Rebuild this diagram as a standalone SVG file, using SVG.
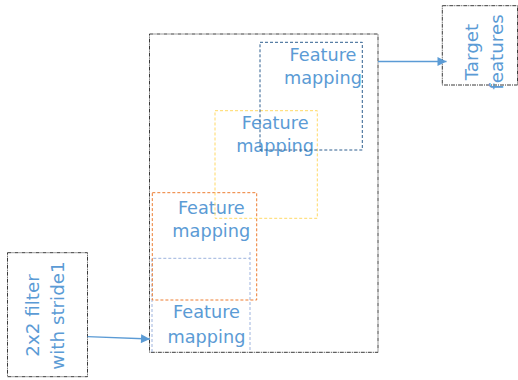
<svg xmlns="http://www.w3.org/2000/svg" width="518" height="380" viewBox="0 0 518 380">
<defs>
<style>
.frame{fill:none;stroke:#3a3a3a;stroke-width:1;stroke-dasharray:4 1 1 1}
.map{fill:none;stroke-width:1;stroke-dasharray:3 2}
.lbl{font-family:"DejaVu Sans",Verdana,sans-serif;fill:#5b9bd5;text-anchor:middle}
.fm{font-size:17.7px}
.side{font-size:18.3px}
.conn{fill:none;stroke:#5b9bd5;stroke-width:1.3}
</style>
<marker id="ah" viewBox="0 0 10 10" refX="10" refY="5" markerWidth="10" markerHeight="9" markerUnits="userSpaceOnUse" orient="auto">
<path d="M0,0 L10,5 L0,10 Z" fill="#5b9bd5"/>
</marker>
</defs>
<rect width="518" height="380" fill="#ffffff"/>
<g id="container">
<rect class="frame" x="149.5" y="34" width="228.5" height="318.3"/>
</g>
<g id="filter">
<rect class="frame" x="7.5" y="252.7" width="80" height="124"/>
<text class="lbl side" transform="rotate(-90)"><tspan x="-315.5" y="38.5">2x2 filter</tspan><tspan x="-315.5" y="63.8">with stride1</tspan></text>
</g>
<g id="target">
<rect class="frame" x="442.3" y="5.7" width="75.2" height="79.3"/>
<text class="lbl side" transform="rotate(-90)"><tspan x="-52" y="478.3">Target</tspan><tspan x="-52" y="503">features</tspan></text>
</g>
<g id="map1">
<path class="map" stroke="#9db3de" d="M152,352 V258.3 H250 M250,252 V352"/>
<text class="lbl fm"><tspan x="206.5" y="318.3">Feature</tspan><tspan x="206.5" y="342.7">mapping</tspan></text>
</g>
<g id="map2">
<rect class="map" stroke="#ed7d31" x="152.3" y="192.7" width="104.4" height="107.3"/>
<text class="lbl fm"><tspan x="211.3" y="214">Feature</tspan><tspan x="211.3" y="236.7">mapping</tspan></text>
</g>
<g id="map3">
<rect class="map" stroke="#ffd966" x="215" y="110.7" width="102.3" height="107.6"/>
<text class="lbl fm"><tspan x="275.1" y="129">Feature</tspan><tspan x="275.1" y="151.7">mapping</tspan></text>
</g>
<g id="map4">
<rect class="map" stroke="#2f5f8f" x="260" y="42.3" width="102.3" height="107.7"/>
<text class="lbl fm"><tspan x="323" y="61">Feature</tspan><tspan x="323" y="84.2">mapping</tspan></text>
</g>
<g id="connectors">
<path class="conn" marker-end="url(#ah)" d="M87.5,336.7 L150,339"/>
<path class="conn" marker-end="url(#ah)" d="M378,61.5 L446.5,61.5"/>
</g>
</svg>
